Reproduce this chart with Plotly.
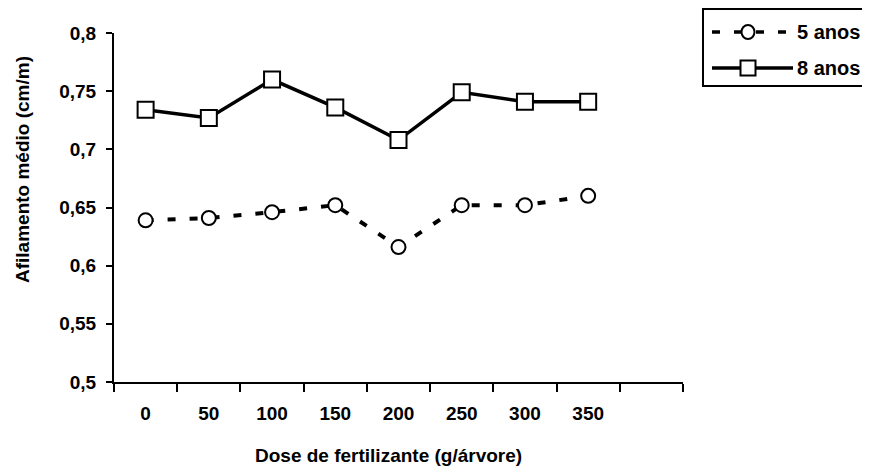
import plotly.graph_objects as go

doses = [0, 50, 100, 150, 200, 250, 300, 350]
dose_labels = ["0", "50", "100", "150", "200", "250", "300", "350"]
anos5 = [0.639, 0.641, 0.646, 0.652, 0.616, 0.652, 0.652, 0.660]
anos8 = [0.734, 0.727, 0.760, 0.736, 0.708, 0.749, 0.741, 0.741]
y_ticks = [0.5, 0.55, 0.6, 0.65, 0.7, 0.75, 0.8]
y_labels = ["0,5", "0,55", "0,6", "0,65", "0,7", "0,75", "0,8"]
x_bounds = [-25, 25, 75, 125, 175, 225, 275, 325, 375, 425]

FONT = "Liberation Sans, Arial, sans-serif"
FS = 19
DASH = "8px,14px"

OFF = 8  # default page body margin
W, H = 870 - OFF, 472 - OFF
L, R, T, B = 114 - OFF, 683 - OFF, 33 - OFF, 382 - OFF


def px(x):
    return (x - OFF - L) / (R - L)


def py(y):
    return (B - (y - OFF)) / (B - T)


fig = go.Figure()
fig.add_trace(go.Scatter(
    x=doses, y=anos5, mode="lines+markers", name="5 anos",
    line=dict(color="black", width=4, dash=DASH),
    marker=dict(symbol="circle", size=14, color="white", line=dict(color="black", width=2)),
    showlegend=False, cliponaxis=False))
fig.add_trace(go.Scatter(
    x=doses, y=anos8, mode="lines+markers", name="8 anos",
    line=dict(color="black", width=3.5),
    marker=dict(symbol="square", size=16, color="white", line=dict(color="black", width=2)),
    showlegend=False, cliponaxis=False))
# invisible trace for the tick-mark axis
fig.add_trace(go.Scatter(x=[x_bounds[0], x_bounds[-1]], y=[0.5, 0.5], xaxis="x2",
                         mode="markers", marker=dict(opacity=0), showlegend=False,
                         hoverinfo="skip"))

fig.update_layout(
    width=W, height=H,
    margin=dict(l=L, r=W - R, t=T, b=H - B, pad=0),
    paper_bgcolor="white", plot_bgcolor="white",
    font=dict(family=FONT, size=FS, color="black"),
    xaxis=dict(range=[x_bounds[0], x_bounds[-1]], tickvals=doses, ticktext=dose_labels,
               ticks="", showline=False, showgrid=False, zeroline=False,
               tickfont=dict(family=FONT, size=FS, color="black", weight="bold"),
               ticklabelstandoff=18),
    xaxis2=dict(range=[x_bounds[0], x_bounds[-1]], overlaying="x", anchor="y",
                tickvals=x_bounds, showticklabels=False, ticks="outside", ticklen=8,
                tickwidth=2, tickcolor="black", showline=True, linewidth=2,
                linecolor="black", showgrid=False, zeroline=False, side="bottom"),
    yaxis=dict(range=[0.5, 0.8], tickvals=y_ticks, ticktext=y_labels,
               ticks="outside", ticklen=6, tickwidth=2, tickcolor="black",
               showline=True, linewidth=2, linecolor="black", showgrid=False,
               zeroline=False,
               tickfont=dict(family=FONT, size=FS, color="black", weight="bold"),
               ticklabelstandoff=6),
)

# axis titles
fig.add_annotation(text="<b>Dose de fertilizante (g/árvore)</b>", xref="paper", yref="paper",
                   x=px(388), y=py(455), xanchor="center", yanchor="middle",
                   showarrow=False, font=dict(family=FONT, size=FS, color="black"))
fig.add_annotation(text="<b>Afilamento médio (cm/m)</b>", xref="paper", yref="paper",
                   x=px(22), y=py(170), xanchor="center", yanchor="middle",
                   textangle=-90, showarrow=False,
                   font=dict(family=FONT, size=FS, color="black"))

# custom legend
shapes = [dict(type="rect", xref="paper", yref="paper", x0=px(703), x1=px(865),
               y0=py(86), y1=py(9), line=dict(color="black", width=2), fillcolor="white",
               layer="below")]
ly1, ly2 = 32, 68
shapes.append(dict(type="line", xref="paper", yref="paper", x0=px(712), x1=px(793),
                   y0=py(ly1), y1=py(ly1), line=dict(color="black", width=3.5, dash=DASH)))
shapes.append(dict(type="line", xref="paper", yref="paper", x0=px(712), x1=px(793),
                   y0=py(ly2), y1=py(ly2), line=dict(color="black", width=3.5)))
shapes.append(dict(type="circle", xref="paper", yref="paper", xsizemode="pixel",
                   ysizemode="pixel", xanchor=px(748), yanchor=py(ly1),
                   x0=-6.5, x1=6.5, y0=-7, y1=7, fillcolor="white",
                   line=dict(color="black", width=2)))
shapes.append(dict(type="rect", xref="paper", yref="paper", xsizemode="pixel",
                   ysizemode="pixel", xanchor=px(748), yanchor=py(ly2),
                   x0=-7.5, x1=7.5, y0=-7.5, y1=7.5, fillcolor="white",
                   line=dict(color="black", width=2)))
fig.update_layout(shapes=shapes)
for name, ly in (("5 anos", ly1), ("8 anos", ly2)):
    fig.add_annotation(text="<b>" + name + "</b>", xref="paper", yref="paper",
                       x=px(795), y=py(ly), xanchor="left", yanchor="middle",
                       showarrow=False, font=dict(family=FONT, size=20, color="black"))

fig.write_html("out.html")
